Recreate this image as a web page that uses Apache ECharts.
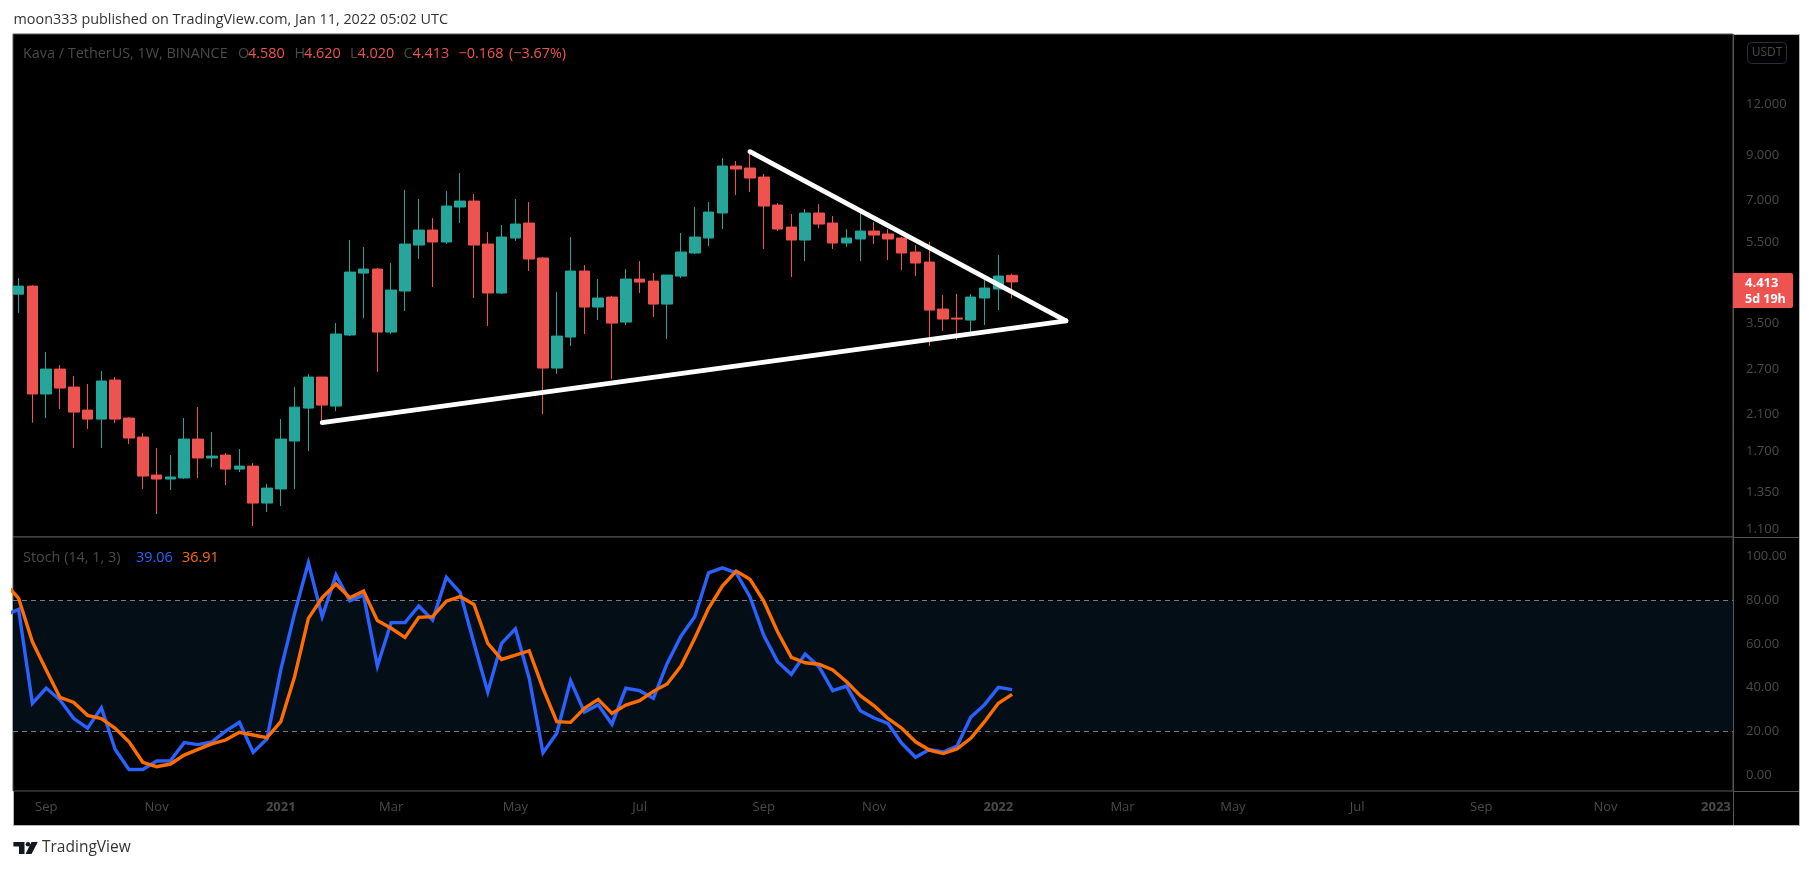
<!DOCTYPE html>
<html><head><meta charset="utf-8">
<style>html,body{margin:0;padding:0;background:#fff}#c{width:1813px;height:870px}</style>
<script src="https://cdn.jsdelivr.net/npm/echarts@6/dist/echarts.min.js"></script>
</head><body><div id="c"></div>
<script>
// weekly bars, numbered from the week of 2020-08-24 = 0
// open, close, low, high per weekly bar
const opens  = [4.12,4.31,2.35,2.704,2.444,2.147,2.041,2.542,2.053,1.845,1.49,1.457,1.466,1.824,1.64,1.667,1.541,1.567,1.273,1.378,1.804,2.171,2.585,2.196,3.274,4.638,4.744,3.329,4.192,5.429,5.907,5.522,6.722,6.953,5.46,4.146,5.647,6.144,5.047,2.719,3.237,4.691,3.831,4.053,3.521,4.484,4.434,3.896,4.56,5.191,5.647,6.5,8.465,8.37,7.957,6.798,6.007,5.584,6.5,6.144,5.491,5.616,5.874,5.776,5.647,5.22,4.934,3.788,3.601,3.561,4.031,4.239,4.58];
const closes = [4.31,2.35,2.704,2.43,2.123,2.041,2.528,2.041,1.835,1.482,1.457,1.474,1.824,1.64,1.658,1.541,1.567,1.273,1.385,1.824,2.183,2.585,2.208,3.292,4.664,4.744,3.329,4.216,5.46,5.907,5.522,6.76,6.953,5.429,4.146,5.679,6.109,5.019,2.719,3.255,4.691,3.831,4.031,3.501,4.484,4.409,3.896,4.586,5.22,5.679,6.536,8.465,8.323,7.912,6.76,5.94,5.584,6.5,6.109,5.491,5.647,5.874,5.743,5.616,5.191,4.907,3.767,3.581,3.581,4.053,4.263,4.56,4.413];
const lows   = [3.71,2.0,2.053,2.159,1.734,1.93,1.734,1.996,1.774,1.378,1.197,1.37,1.457,1.466,1.558,1.409,1.516,1.119,1.21,1.252,1.378,1.705,1.996,2.135,3.255,3.601,2.659,3.292,3.746,5.019,4.287,5.46,6.144,4.031,3.443,4.122,5.553,4.691,2.099,2.629,3.077,3.292,3.561,2.556,3.462,4.146,3.622,3.201,4.51,5.162,5.399,5.94,7.191,7.313,5.309,5.874,4.535,4.962,5.973,5.309,5.369,4.962,5.46,4.99,4.717,4.56,3.077,3.348,3.183,3.329,3.462,3.767,4.02];
const highs  = [4.51,4.335,2.975,2.765,2.6,2.486,2.674,2.585,2.064,1.887,1.734,1.667,2.053,2.183,1.898,1.686,1.725,1.594,1.417,2.041,2.444,2.629,2.585,3.501,5.584,5.369,4.771,4.907,7.396,7.031,6.319,7.355,8.138,7.232,5.841,6.075,7.031,6.914,5.075,4.169,5.679,4.852,4.484,4.076,4.744,4.962,4.638,4.586,5.808,6.722,6.914,8.854,8.706,9.157,8.092,6.875,6.463,6.647,6.837,6.391,5.94,6.5,6.178,5.94,5.679,5.429,5.522,4.099,4.122,4.122,4.459,5.133,4.62];
// stochastic, first entry is the bar just before the visible pane
const stochK = [73.2,75.8,32.8,39.8,34.3,25.8,21.4,30.8,11.7,2.5,2.5,6.4,6.5,14.8,13.9,15.1,20.1,24.1,10.4,16.5,48.1,74,97.2,72.5,91.6,79.8,82.4,49.9,69.8,69.8,77.4,71,90.5,83.5,60.3,38,60.3,66.9,44.3,10.2,19.1,43.2,28.8,32.2,23.3,39.7,38.6,35.1,51.1,63.6,72.5,92.6,94.9,92.6,81.7,64,51.9,46.1,55.4,49.6,38.6,40.7,29.4,26.1,23.6,14.5,8.1,11.7,10.5,13.2,26.4,32.2,40.1,39.06];
const stochD = [88,80.9,61,48.1,35.5,33.2,27.3,25.8,21.4,15.2,5.8,3.8,5,9.1,11.7,14.2,16,19.5,18.3,17.1,24.4,45,71.7,81.2,87.5,81.2,84.2,70.7,67.2,63,72.2,72.5,79.6,81.7,78.1,60.3,52.9,54.9,56.9,39.7,24.4,24.1,30.5,34.6,28.2,32,34,38.3,41.7,49.9,62.6,76.3,86.5,93.4,89.6,79.6,65.6,53.9,51.4,50.7,48.1,42.7,36.3,31.7,25.9,21.4,15.2,11.4,9.8,11.9,16.8,24.4,32.8,36.91];
// drawn trend lines: bar number, price
const upperLineBars = [53,75.9];
const upperLinePrices = [9.173,3.547];
const lowerLineBars = [22,75.9];
const lowerLinePrices = [2.0,3.547];
const priceTicks = [12,9,7,5.5,3.5,2.7,2.1,1.7,1.35,1.1];
const stochTicks = [0,20,40,60,80,100];
const timeTickBars = [2,10,19,27,36,45,54,62,71,80,88,97,106,115,123];
const timeTickLabels = ['Sep','Nov','2021','Mar','May','Jul','Sep','Nov','2022','Mar','May','Jul','Sep','Nov','2023'];

const candles = opens.map((o,i)=>[i,o,closes[i],lows[i],highs[i]]);
const FONT = '"Open Sans",sans-serif';
const DIM = '#4a4a4a', UP = '#26A69A', DOWN = '#EF5350', BLUE = '#2962FF', ORANGE = '#FF6D00', RULE='#565656';

const xCommon = {type:'value',min:-0.406,max:124.24,axisTick:{show:false},splitLine:{show:false},axisPointer:{show:false}};
const yLabel = {color:DIM,fontFamily:FONT,fontSize:13,margin:13,align:'left',hideOverlap:false,showMinLabel:true,showMaxLabel:true};
const legendText = (x,y,text,fill)=>({type:'text',z:10,x,y,style:{text,fill,font:'14.4px '+FONT,verticalAlign:'middle'}});

const option = {
  animation:false, backgroundColor:'transparent',
  grid:[
    {left:13,right:80,top:34,height:503,show:true,borderColor:RULE,borderWidth:1,backgroundColor:'#000'},
    {left:13,right:80,top:537,height:254,show:true,borderColor:RULE,borderWidth:1,backgroundColor:'#000'}
  ],
  xAxis:[
    {...xCommon,gridIndex:0,axisLine:{show:false},axisLabel:{show:false}},
    {...xCommon,gridIndex:1,axisLine:{show:false},
      axisLabel:{customValues:timeTickBars,color:DIM,fontFamily:FONT,fontSize:13,margin:10,hideOverlap:false,
        formatter:v=>{const s=timeTickLabels[timeTickBars.indexOf(+v)];return /^\d/.test(s)?'{b|'+s+'}':s;},
        rich:{b:{fontWeight:'bold',color:DIM,fontFamily:FONT,fontSize:13}}}}
  ],
  yAxis:[
    {type:'log',gridIndex:0,position:'right',min:1.052,max:17.78,logBase:10,splitLine:{show:false},axisTick:{show:false},axisLine:{show:false},
      axisLabel:{...yLabel,customValues:priceTicks,formatter:v=>(+v).toFixed(3)}},
    {type:'value',gridIndex:1,position:'right',min:-7.35,max:109,splitLine:{show:false},axisTick:{show:false},axisLine:{show:false},
      axisLabel:{...yLabel,customValues:stochTicks,formatter:v=>(+v).toFixed(2)}}
  ],
  series:[
    {type:'candlestick',xAxisIndex:0,yAxisIndex:0,data:candles,encode:{x:0,y:[1,2,3,4]},barWidth:11,
      itemStyle:{color:UP,color0:DOWN,borderColor:UP,borderColor0:DOWN,borderWidth:1},silent:true,z:2},
    {type:'line',xAxisIndex:0,yAxisIndex:0,data:upperLineBars.map((b,i)=>[b,upperLinePrices[i]]),showSymbol:false,
      lineStyle:{color:'#fff',width:4.8,cap:'round'},z:5,silent:true},
    {type:'line',xAxisIndex:0,yAxisIndex:0,data:lowerLineBars.map((b,i)=>[b,lowerLinePrices[i]]),showSymbol:false,
      lineStyle:{color:'#fff',width:4.8,cap:'round'},z:5,silent:true},
    {type:'line',xAxisIndex:1,yAxisIndex:1,data:stochK.map((v,i)=>[i-1,v]),showSymbol:false,
      lineStyle:{color:BLUE,width:3.4,join:'miter'},z:4,silent:true,
      markArea:{silent:true,itemStyle:{color:'#040e16'},data:[[{yAxis:20},{yAxis:80}]],z:1},
      markLine:{silent:true,symbol:'none',label:{show:false},lineStyle:{color:'#787B86',type:[5,4],width:1},data:[{yAxis:20},{yAxis:80}],z:2}},
    {type:'line',xAxisIndex:1,yAxisIndex:1,data:stochD.map((v,i)=>[i-1,v]),showSymbol:false,
      lineStyle:{color:ORANGE,width:3.4,join:'miter'},z:5,silent:true}
  ],
  graphic:[
    {type:'rect',z:-10,shape:{x:13.5,y:34.5,width:1786,height:791},style:{fill:'#000',stroke:'#b2b5be',lineWidth:1}},
    {type:'line',z:10,shape:{x1:1733.5,y1:34,x2:1733.5,y2:825},style:{stroke:RULE,lineWidth:1}},
    {type:'line',z:10,shape:{x1:1733,y1:537.5,x2:1799,y2:537.5},style:{stroke:RULE,lineWidth:1}},
    {type:'line',z:10,shape:{x1:1733,y1:791.5,x2:1799,y2:791.5},style:{stroke:RULE,lineWidth:1}},
    {type:'text',z:10,x:13.5,y:19.5,style:{text:'moon333 published on TradingView.com, Jan 11, 2022 05:02 UTC',fill:'#333',font:'14.4px '+FONT,verticalAlign:'middle'}},
    legendText(23,53.5,'Kava / TetherUS, 1W, BINANCE',DIM),
    legendText(238,53.5,'O',DIM), legendText(248,53.5,'4.580',DOWN),
    legendText(294.5,53.5,'H',DIM), legendText(304,53.5,'4.620',DOWN),
    legendText(350,53.5,'L',DIM), legendText(357.5,53.5,'4.020',DOWN),
    legendText(403.5,53.5,'C',DIM), legendText(412.5,53.5,'4.413',DOWN),
    legendText(458.5,53.5,'\u22120.168',DOWN), legendText(509,53.5,'(\u22123.67%)',DOWN),
    legendText(23,558,'Stoch (14, 1, 3)',DIM), legendText(136,558,'39.06',BLUE), legendText(182,558,'36.91',ORANGE),
    {type:'rect',z:10,shape:{x:1747.5,y:42.5,width:39,height:21,r:4},style:{fill:'none',stroke:'#2a2e39',lineWidth:1}},
    {type:'text',z:11,x:1767,y:53,style:{text:'USDT',fill:DIM,font:'12px '+FONT,align:'center',verticalAlign:'middle'}},
    {type:'rect',z:10,shape:{x:1733,y:273,width:60,height:35,r:[0,2,2,0]},style:{fill:DOWN}},
    {type:'text',z:11,x:1745,y:283,style:{text:'4.413',fill:'#fff',font:'bold 13px '+FONT,verticalAlign:'middle'}},
    {type:'text',z:11,x:1745,y:299,style:{text:'5d 19h',fill:'#fff',font:'bold 12.5px '+FONT,verticalAlign:'middle'}},
    {type:'polygon',z:10,shape:{points:[[13.4,842],[24.5,842],[24.5,854],[19,854],[19,846.5],[13.4,846.5]]},style:{fill:'#131722'}},
    {type:'circle',z:10,shape:{cx:28,cy:844.2,r:2.3},style:{fill:'#131722'}},
    {type:'polygon',z:10,shape:{points:[[31.5,842],[37.8,842],[31.5,854],[25.5,854]]},style:{fill:'#131722'}},
    {type:'text',z:10,x:42,y:848,style:{text:'TradingView',fill:'#333',font:'15.5px '+FONT,verticalAlign:'middle'}}
  ]
};
echarts.init(document.getElementById('c'),null,{renderer:'canvas'}).setOption(option);
</script></body></html>
